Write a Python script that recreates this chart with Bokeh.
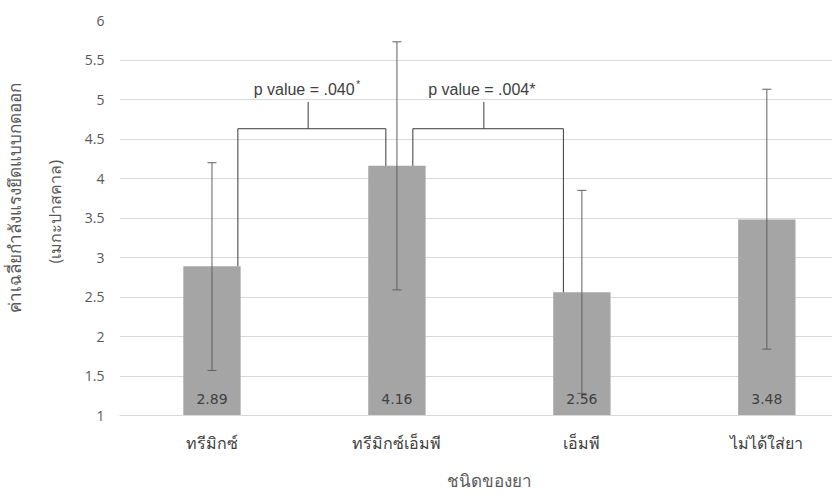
from bokeh.plotting import figure
from bokeh.models import (ColumnDataSource, Whisker, TeeHead, FixedTicker,
                          NumeralTickFormatter, Label, Range1d, Title)
from bokeh.embed import file_html
from bokeh.resources import INLINE
from bokeh.core.properties import value

# ---- data ----
categories = ["ทรีมิกซ์", "ทรีมิกซ์เอ็มพี", "เอ็มพี", "ไม่ได้ใส่ยา"]
means = [2.89, 4.16, 2.56, 3.48]
err_upper = [4.20, 5.73, 3.85, 5.13]
err_lower = [1.57, 2.59, 1.28, 1.84]
y_ticks = [1, 1.5, 2, 2.5, 3, 3.5, 4, 4.5, 5, 5.5, 6]
comparisons = [(0, 1), (1, 2)]
p_texts = ["p value = .040", "p value = .004*"]
p_sup = ["*", ""]
y_title = ["ค่าเฉลี่ยกำลังแรงยึดแบบกดออก", "(เมกะปาสคาล)"]
x_title = "ชนิดของยา"

# ---- style constants ----
BAR = "#a5a5a5"
GRID = "#d9d9d9"
TXT = "#595959"
DARK = "#404040"
BASE = 1.0
BR_Y = 4.63
BR_TICK = 4.97
BR_OFF = [(0.14, -0.06), (0.086, -0.10)]
TICK_FRAC = [0.52, 0.47]

xs = list(range(len(categories)))
src = ColumnDataSource(dict(x=xs, top=means, up=err_upper, lo=err_lower,
                            lab=[f"{m:.2f}" for m in means],
                            base=[BASE] * len(means)))

p = figure(width=832, height=502, output_backend="svg", toolbar_location=None,
           x_range=Range1d(-0.5, 3.355), y_range=Range1d(1, 6),
           min_border_left=115, min_border_right=0, min_border_top=20,
           min_border_bottom=87)
p.outline_line_color = None
p.background_fill_color = "white"

p.vbar(x="x", top="top", bottom=BASE, width=0.31, source=src,
       fill_color=BAR, line_color=None)

head = dict(size=9, line_color="#606060", line_width=1)
w = Whisker(base="x", upper="up", lower="lo", source=src,
            line_color="#606060", line_width=1, level="overlay",
            upper_head=TeeHead(**head), lower_head=TeeHead(**head))
p.add_layout(w)

p.text(x="x", y="base", text="lab", source=src, text_align="center",
       text_baseline="middle", y_offset=-17, text_color=DARK,
       text_font=value("DejaVu Sans"), text_font_size="14px")

# brackets
bx, by = [], []
for (a, b), (oa, ob), tf in zip(comparisons, BR_OFF, TICK_FRAC):
    xa, xb = a + oa, b + ob
    bx.append([xa, xa, xb, xb])
    by.append([means[a], BR_Y, BR_Y, means[b]])
    tx = a + tf
    bx.append([tx, tx])
    by.append([BR_Y, BR_TICK])
p.multi_line(xs=bx, ys=by, line_color="#3a3a3a", line_width=1)

for (a, b), tf, t, s in zip(comparisons, TICK_FRAC, p_texts, p_sup):
    tx = a + tf
    p.add_layout(Label(x=tx, y=BR_TICK, text=t, text_align="center",
                       text_baseline="bottom", x_offset=-4 if s else -2, y_offset=4,
                       text_font="Liberation Sans", text_font_size="16px",
                       text_color=DARK))
    if s:
        p.add_layout(Label(x=tx, y=BR_TICK, text=s, text_align="left",
                           text_baseline="bottom", x_offset=48, y_offset=12,
                           text_font="Liberation Sans", text_font_size="10px",
                           text_color=DARK))

# axes
p.xgrid.grid_line_color = None
p.ygrid.grid_line_color = GRID
p.ygrid.ticker = FixedTicker(ticks=y_ticks)

ya = p.yaxis[0]
ya.ticker = FixedTicker(ticks=y_ticks)
ya.formatter = NumeralTickFormatter(format="0.[0]")
ya.axis_line_color = None
ya.major_tick_line_color = None
ya.minor_tick_line_color = None
ya.major_tick_out = 0
ya.major_label_standoff = 15
ya.major_label_text_font = "Open Sans"
ya.major_label_text_font_size = "14px"
ya.major_label_text_color = TXT

xa = p.xaxis[0]
xa.ticker = FixedTicker(ticks=xs)
xa.major_label_overrides = {i: c for i, c in zip(xs, categories)}
xa.axis_line_color = GRID
xa.major_tick_line_color = None
xa.minor_tick_line_color = None
xa.major_tick_out = 0
xa.major_label_standoff = 16
xa.major_label_text_font = "Noto Sans"
xa.major_label_text_font_size = "16px"
xa.major_label_text_color = DARK

# axis titles as side titles (so they can be shifted)
tstyle = dict(text_font="Noto Sans", text_font_style="normal",
              text_color=TXT, align="left")
p.add_layout(Title(text=x_title, text_font_size="17px", offset=327,
                   standoff=20, **tstyle), "below")
p.add_layout(Title(text=y_title[1], text_font_size="16px", offset=152,
                   standoff=32, **tstyle), "left")
p.add_layout(Title(text=y_title[0], text_font_size="17px", offset=103,
                   standoff=0, **tstyle), "left")

open("out.html", "w").write(file_html(p, INLINE))
